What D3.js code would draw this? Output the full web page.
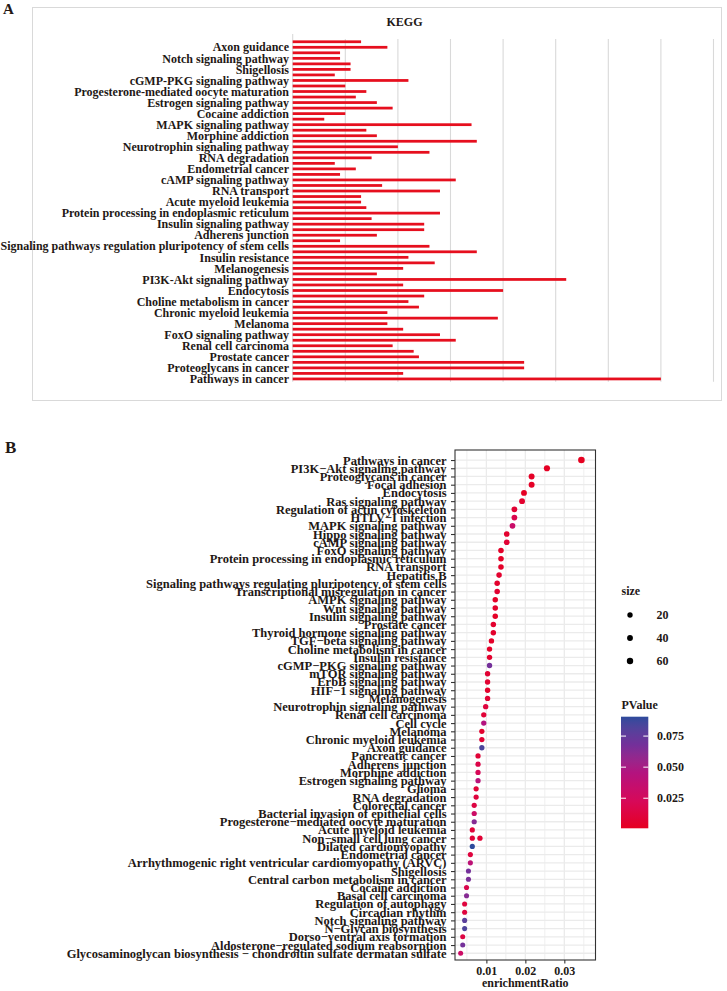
<!DOCTYPE html>
<html>
<head>
<meta charset="utf-8">
<script src="https://cdn.jsdelivr.net/npm/d3@7"></script>
<style>
  body { margin: 0; background: #fff; }
  svg text { font-family: "Liberation Serif", "Times New Roman", serif; font-weight: bold; fill: #231815; }
</style>
</head>
<body>
<div id="chart"></div>
<script>
// ---- panel A: KEGG gene counts (top to bottom), only every second category is labelled
var keggCounts = [13, 18, 9, 9, 11, 11, 8, 22, 10, 14, 12, 16, 19, 10, 6, 34, 14, 16, 35, 20,
  26, 15, 8, 12, 9, 31, 17, 28, 13, 13, 14, 28, 15, 25, 25, 16, 9, 26, 35, 22,
  27, 21, 16, 52, 21, 40, 25, 22, 24, 18, 39, 18, 21, 28, 31, 19, 23, 24, 44, 44, 21, 70];
var keggLabels = ["Axon guidance", "Notch signaling pathway", "Shigellosis", "cGMP-PKG signaling pathway",
  "Progesterone-mediated oocyte maturation", "Estrogen signaling pathway", "Cocaine addiction",
  "MAPK signaling pathway", "Morphine addiction", "Neurotrophin signaling pathway", "RNA degradation",
  "Endometrial cancer", "cAMP signaling pathway", "RNA transport", "Acute myeloid leukemia",
  "Protein processing in endoplasmic reticulum", "Insulin signaling pathway", "Adherens junction",
  "Signaling pathways regulation pluripotency of stem cells", "Insulin resistance", "Melanogenesis",
  "PI3K-Akt signaling pathway", "Endocytosis", "Choline metabolism in cancer", "Chronic myeloid leukemia",
  "Melanoma", "FoxO signaling pathway", "Renal cell carcinoma", "Prostate cancer",
  "Proteoglycans in cancer", "Pathways in cancer"];

// ---- panel B: enrichment dot plot (one entry per point, top to bottom)
var pathways = ["Pathways in cancer", "PI3K\u2212Akt signaling pathway", "Proteoglycans in cancer", "Focal adhesion",
  "Endocytosis", "Ras signaling pathway", "Regulation of actin cytoskeleton", "HTLV\u2212I infection",
  "MAPK signaling pathway", "Hippo signaling pathway", "cAMP signaling pathway", "FoxO signaling pathway",
  "Protein processing in endoplasmic reticulum", "RNA transport", "Hepatitis B",
  "Signaling pathways regulating pluripotency of stem cells", "Transcriptional misregulation in cancer",
  "AMPK signaling pathway", "Wnt signaling pathway", "Insulin signaling pathway", "Prostate cancer",
  "Thyroid hormone signaling pathway", "TGF\u2212beta signaling pathway", "Choline metabolism in cancer",
  "Insulin resistance", "cGMP\u2212PKG signaling pathway", "mTOR signaling pathway", "ErbB signaling pathway",
  "HIF\u22121 signaling pathway", "Melanogenesis", "Neurotrophin signaling pathway", "Renal cell carcinoma",
  "Cell cycle", "Melanoma", "Chronic myeloid leukemia", "Axon guidance", "Pancreatic cancer",
  "Adherens junction", "Morphine addiction", "Estrogen signaling pathway", "Glioma", "RNA degradation",
  "Colorectal cancer", "Bacterial invasion of epithelial cells", "Progesterone\u2212mediated oocyte maturation",
  "Acute myeloid leukemia", "Non\u2212small cell lung cancer", "Non\u2212small cell lung cancer",
  "Dilated cardiomyopathy", "Endometrial cancer",
  "Arrhythmogenic right ventricular cardiomyopathy (ARVC)", "Shigellosis",
  "Central carbon metabolism in cancer", "Cocaine addiction", "Basal cell carcinoma",
  "Regulation of autophagy", "Circadian rhythm", "Notch signaling pathway", "N\u2212Glycan biosynthesis",
  "Dorso\u2212ventral axis formation", "Aldosterone\u2212regulated sodium reabsorption",
  "Glycosaminoglycan biosynthesis \u2212 chondroitin sulfate  dermatan sulfate"];
var enrichmentRatio = [0.03438, 0.02554, 0.02161, 0.02161, 0.01965, 0.01916, 0.01719, 0.01719, 0.01670,
  0.01523, 0.01523, 0.01375, 0.01375, 0.01375, 0.01326, 0.01277, 0.01277, 0.01228, 0.01228, 0.01228,
  0.01179, 0.01179, 0.01130, 0.01081, 0.01081, 0.01081, 0.01031, 0.01031, 0.01031, 0.01031, 0.00982,
  0.00933, 0.00933, 0.00884, 0.00884, 0.00884, 0.00786, 0.00786, 0.00786, 0.00786, 0.00737, 0.00737,
  0.00688, 0.00688, 0.00688, 0.00639, 0.00639, 0.00835, 0.00639, 0.00589, 0.00589, 0.00540, 0.00540,
  0.00491, 0.00491, 0.00442, 0.00442, 0.00442, 0.00442, 0.00393, 0.00393, 0.00340];
var geneCount = [70, 52, 44, 44, 40, 39, 35, 35, 34, 31, 31, 28, 28, 28, 27, 26, 26, 25, 25, 25,
  24, 24, 23, 22, 22, 22, 21, 21, 21, 21, 20, 19, 19, 18, 18, 18, 16, 16, 16, 16, 15, 15,
  14, 14, 14, 13, 13, 17, 13, 12, 12, 11, 11, 10, 10, 9, 9, 9, 9, 8, 8, 6];
var pValue = [0.0008, 0.002, 0.003, 0.003, 0.002, 0.006, 0.008, 0.018, 0.032, 0.006, 0.008, 0.004,
  0.003, 0.004, 0.006, 0.005, 0.007, 0.004, 0.005, 0.003, 0.006, 0.005, 0.004, 0.004, 0.006, 0.068,
  0.008, 0.007, 0.005, 0.008, 0.012, 0.009, 0.045, 0.006, 0.008, 0.083, 0.009, 0.016, 0.022, 0.042,
  0.009, 0.011, 0.014, 0.030, 0.062, 0.010, 0.010, 0.008, 0.0906, 0.012, 0.040, 0.068, 0.066, 0.018,
  0.062, 0.012, 0.012, 0.078, 0.082, 0.014, 0.068, 0.030];
var xTicks = [0.01, 0.02, 0.03];
var colorTicks = [0.025, 0.050, 0.075];
var sizeBreaks = [20, 40, 60];

var W = 727, H = 991;
var ink = "#231815";

var svg = d3.select("#chart").append("svg")
  .attr("width", W).attr("height", H);
svg.append("rect").attr("width", W).attr("height", H).attr("fill", "#fff");

// ================= panel A =================
var gA = svg.append("g");
gA.append("rect")
  .attr("x", 32.5).attr("y", 7.5).attr("width", 689).attr("height", 393)
  .attr("fill", "none").attr("stroke", "#d9d9d9").attr("stroke-width", 1);

gA.append("text").attr("x", 3).attr("y", 13.5).attr("font-size", 15).text("A");
gA.append("text").attr("x", 404.5).attr("y", 26).attr("text-anchor", "middle")
  .attr("font-size", 12).text("KEGG");

var ax = d3.scaleLinear().domain([0, 80]).range([292.7, 713.5]);
var ay = d3.scaleBand().domain(d3.range(keggCounts.length))
  .range([39, 381.7]).paddingInner(0.5).paddingOuter(0.25);

gA.append("g").selectAll("line").data(ax.ticks(8))
  .join("line")
  .attr("x1", (d) => ax(d)).attr("x2", (d) => ax(d))
  .attr("y1", (d) => (d === 0 ? 34 : 39)).attr("y2", 381.7)
  .attr("stroke", "#d9d9d9").attr("stroke-width", 1.1);

gA.append("g").selectAll("rect").data(keggCounts)
  .join("rect")
  .attr("x", ax(0))
  .attr("y", (d, i) => ay(i))
  .attr("width", (d) => ax(d) - ax(0))
  .attr("height", ay.bandwidth())
  .attr("fill", "#e60f1e");

gA.append("g").selectAll("text").data(keggLabels)
  .join("text")
  .attr("x", 289)
  .attr("y", (d, i) => ay(2 * i + 1) + ay.bandwidth() / 2)
  .attr("dy", "0.35em")
  .attr("text-anchor", "end")
  .attr("font-size", 12)
  .text((d) => d);

// ================= panel B =================
var gB = svg.append("g");
gB.append("text").attr("x", 5).attr("y", 453).attr("font-size", 17).text("B");

var panel = { left: 455, right: 595.5, top: 450, bottom: 960 };
var uniqueNames = Array.from(new Set(pathways));
var bx = d3.scaleLinear().domain([0.00195, 0.0380]).range([panel.left, panel.right]);
var by = d3.scalePoint().domain(uniqueNames).range([455.1, 958.2]).padding(0.6);
var color = d3.scaleLinear()
  .domain([0.0008, 0.0233, 0.0457, 0.0682, 0.0906])
  .range(["#e60020", "#d6095a", "#b3137f", "#73309a", "#2d4b9c"])
  .interpolate(d3.interpolateLab);
var rScale = d3.scaleLinear().domain([6, 70]).range([2.5, 3.3]);

// grid (theme_bw)
var minor = [0.005, 0.015, 0.025, 0.035];
gB.append("g").selectAll("line").data(minor.concat(xTicks))
  .join("line")
  .attr("x1", (d) => bx(d)).attr("x2", (d) => bx(d))
  .attr("y1", panel.top).attr("y2", panel.bottom)
  .attr("stroke", "#ebebeb").attr("stroke-width", (d) => (xTicks.includes(d) ? 1.3 : 0.8));
gB.append("g").selectAll("line").data(uniqueNames)
  .join("line")
  .attr("x1", panel.left).attr("x2", panel.right)
  .attr("y1", (d) => by(d)).attr("y2", (d) => by(d))
  .attr("stroke", "#ebebeb").attr("stroke-width", 1.3);

// points
var pts = pathways.map((name, i) => ({
  name: name, x: enrichmentRatio[i], n: geneCount[i], p: pValue[i]
}));
gB.append("g").selectAll("circle").data(pts)
  .join("circle")
  .attr("cx", (d) => bx(d.x))
  .attr("cy", (d) => by(d.name))
  .attr("r", (d) => rScale(d.n))
  .attr("fill", (d) => color(d.p));

gB.append("rect")
  .attr("x", panel.left).attr("y", panel.top)
  .attr("width", panel.right - panel.left).attr("height", panel.bottom - panel.top)
  .attr("fill", "none").attr("stroke", "#333").attr("stroke-width", 1.1);

// y axis
var yAxis = gB.append("g")
  .attr("transform", "translate(" + panel.left + ",0)")
  .call(d3.axisLeft(by).tickSize(4).tickPadding(4.5));
yAxis.select(".domain").remove();
yAxis.selectAll(".tick line").attr("stroke", "#333").attr("stroke-width", 1.1);
yAxis.selectAll(".tick text").attr("font-size", 12.5).attr("fill", ink)
  .attr("font-family", null);

// x axis
var xAxis = gB.append("g")
  .attr("transform", "translate(0," + panel.bottom + ")")
  .call(d3.axisBottom(bx).tickValues(xTicks).tickFormat(d3.format(".2f")).tickSize(3.5).tickPadding(2.5));
xAxis.select(".domain").remove();
xAxis.selectAll(".tick line").attr("stroke", "#333").attr("stroke-width", 1.1);
xAxis.selectAll(".tick text").attr("font-size", 12).attr("fill", ink).attr("font-family", null);

gB.append("text").attr("x", (panel.left + panel.right) / 2).attr("y", 987)
  .attr("text-anchor", "middle").attr("font-size", 12).text("enrichmentRatio");

// size legend
var gS = gB.append("g");
gS.append("text").attr("x", 621.5).attr("y", 595).attr("font-size", 12).text("size");
gS.selectAll("circle").data(sizeBreaks)
  .join("circle")
  .attr("cx", 630).attr("cy", (d, i) => 615 + i * 23)
  .attr("r", (d) => rScale(d))
  .attr("fill", "#000");
gS.selectAll("text.lab").data(sizeBreaks)
  .join("text").attr("class", "lab")
  .attr("x", 656.5).attr("y", (d, i) => 615 + i * 23).attr("dy", "0.35em")
  .attr("font-size", 12).text((d) => d);

// colour bar legend
var cb = { x: 621, y: 716.7, w: 27.3, h: 111.6 };
var gC = gB.append("g");
gC.append("text").attr("x", 621.5).attr("y", 709).attr("font-size", 12).text("PValue");
var cd = d3.extent(color.domain());
var grad = svg.append("defs").append("linearGradient")
  .attr("id", "pgrad").attr("x1", 0).attr("y1", 1).attr("x2", 0).attr("y2", 0);
grad.selectAll("stop").data(d3.range(0, 1.0001, 0.05))
  .join("stop")
  .attr("offset", (d) => d)
  .attr("stop-color", (d) => color(cd[0] + d * (cd[1] - cd[0])));
gC.append("rect").attr("x", cb.x).attr("y", cb.y).attr("width", cb.w).attr("height", cb.h)
  .attr("fill", "url(#pgrad)");
var cy = d3.scaleLinear().domain(cd).range([cb.y + cb.h, cb.y]);
colorTicks.forEach((t) => {
  [[cb.x, cb.x + 5], [cb.x + cb.w - 5, cb.x + cb.w]].forEach((s) => {
    gC.append("line").attr("x1", s[0]).attr("x2", s[1]).attr("y1", cy(t)).attr("y2", cy(t))
      .attr("stroke", "#fff").attr("stroke-width", 1);
  });
  gC.append("text").attr("x", 657).attr("y", cy(t)).attr("dy", "0.35em")
    .attr("font-size", 12).text(d3.format(".3f")(t));
});
</script>
</body>
</html>
